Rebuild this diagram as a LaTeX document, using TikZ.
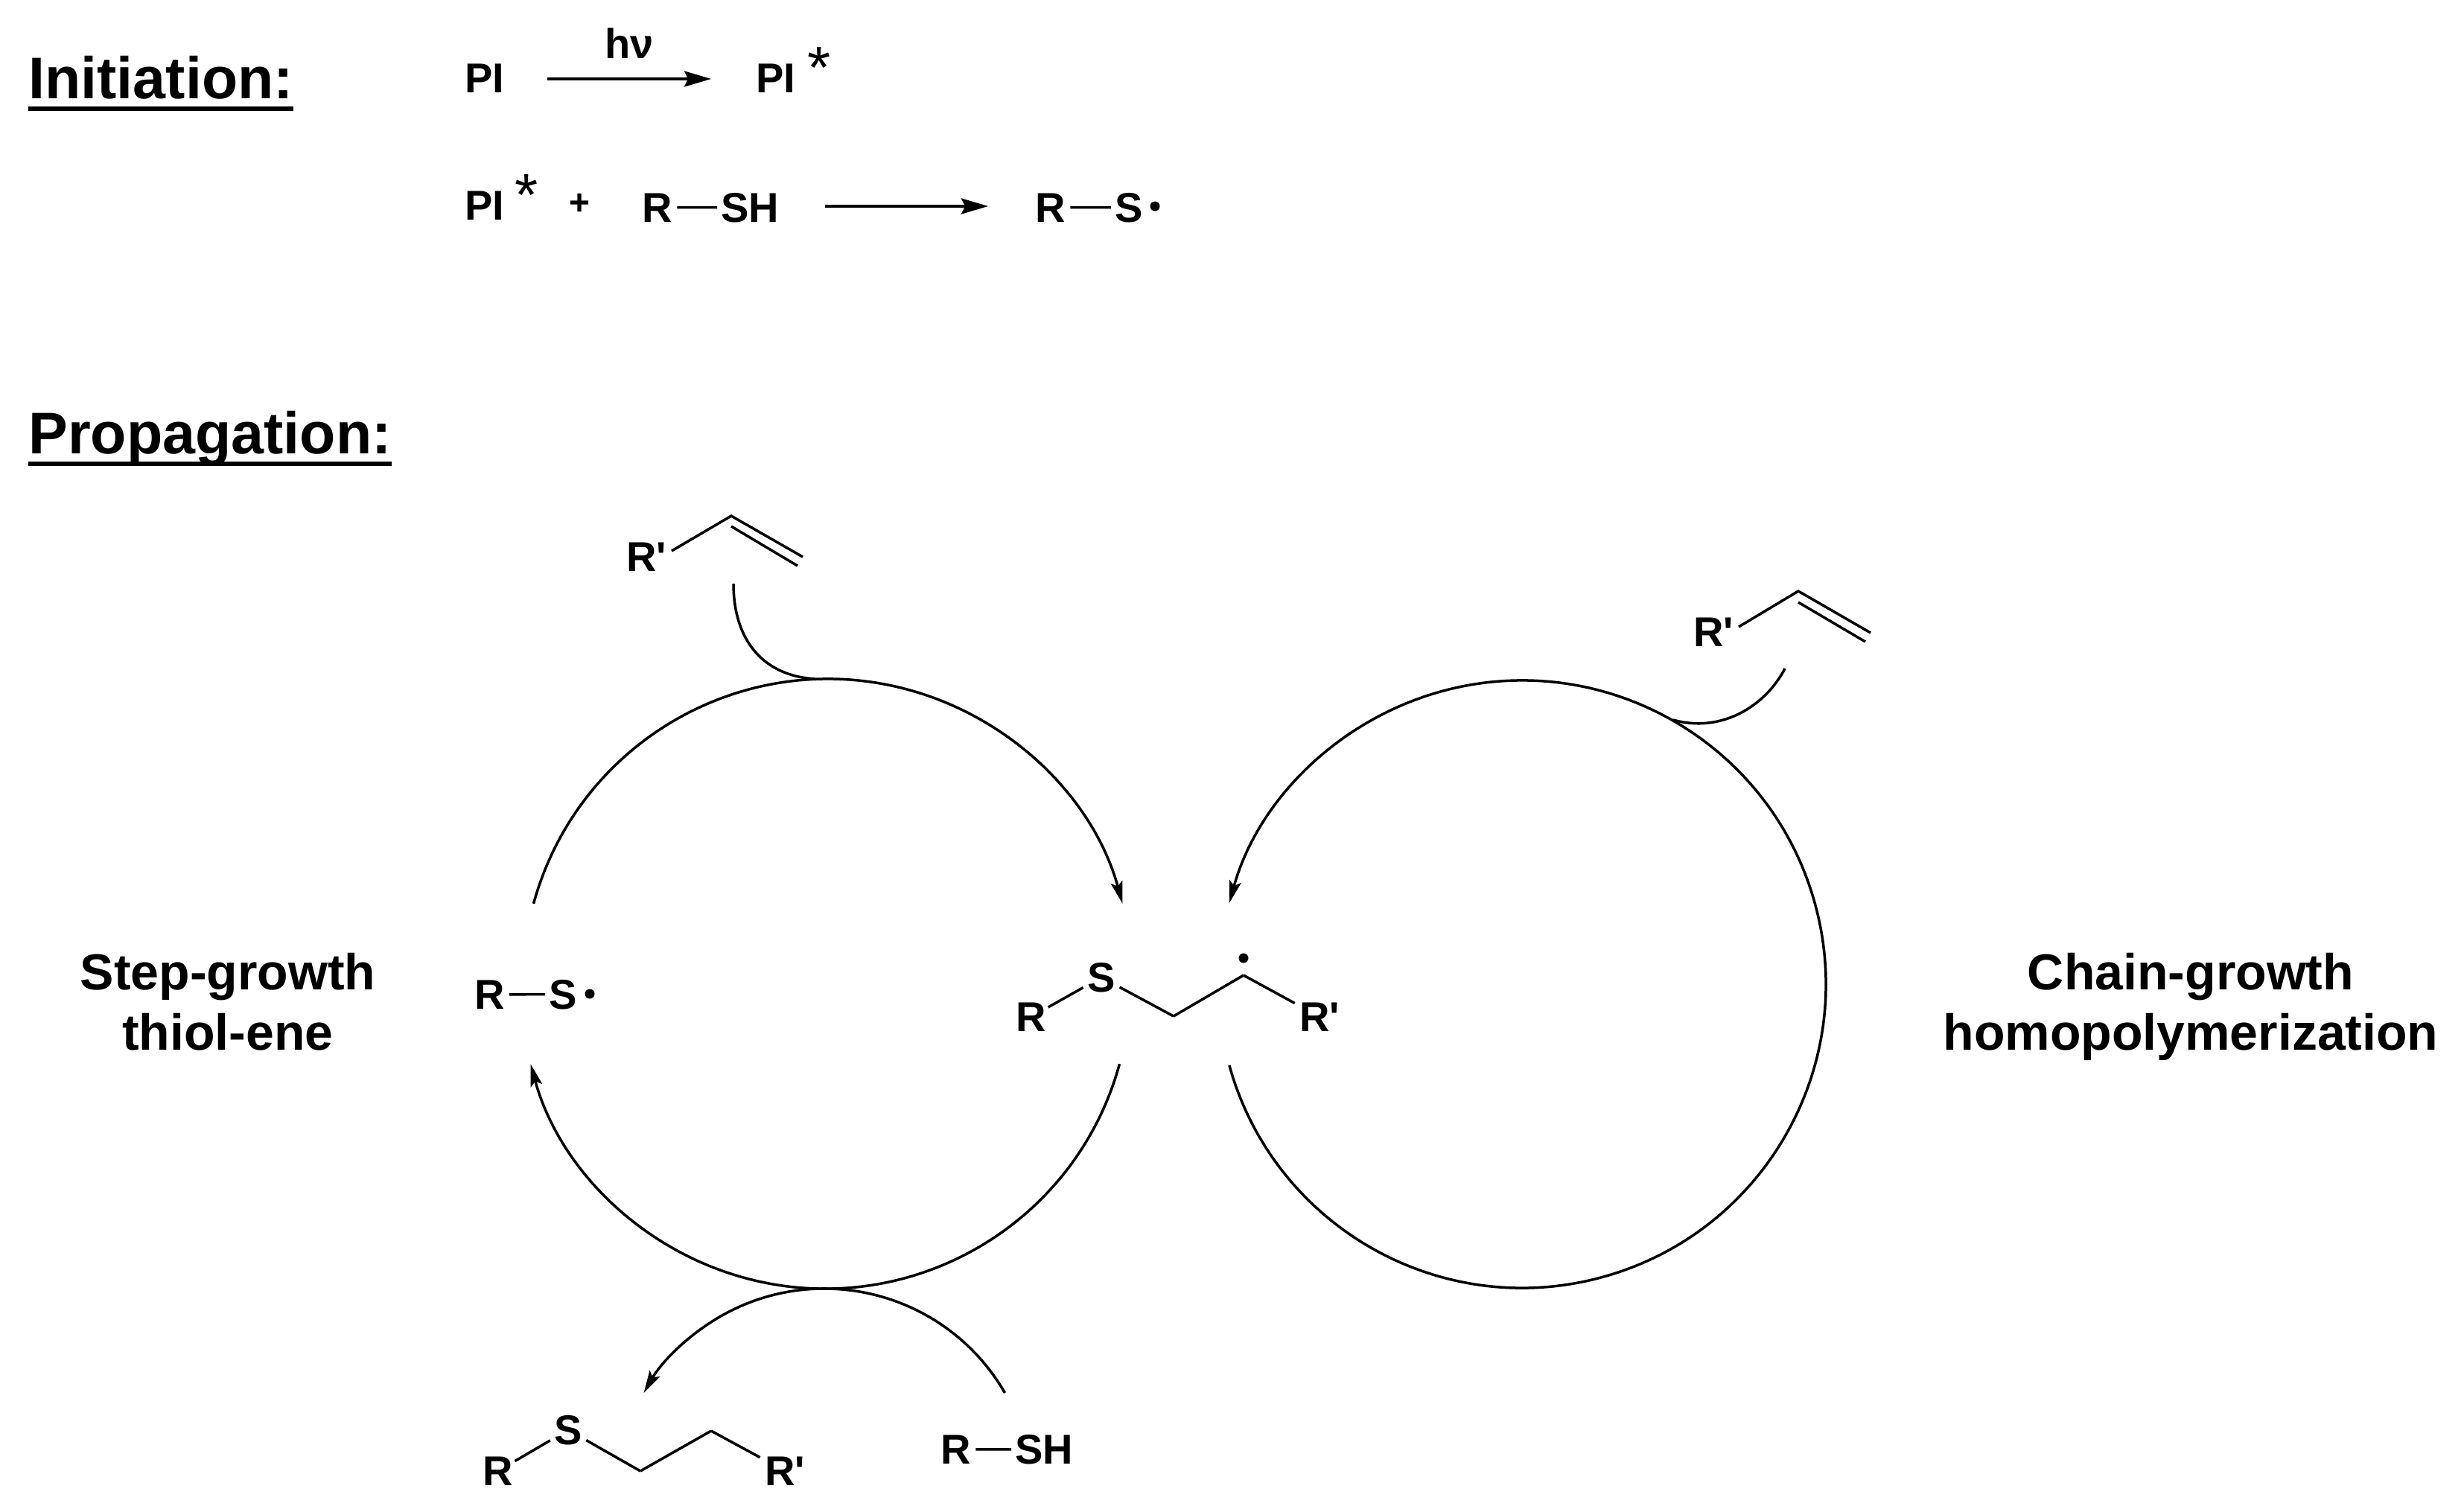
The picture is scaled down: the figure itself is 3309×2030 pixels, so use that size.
\documentclass[tikz,border=0pt]{standalone}
\usepackage{fontspec}
\setmainfont{Liberation Sans}[Ligatures=TeXOff]
\usetikzlibrary{arrows.meta}
\tikzset{
  x=0.5pt,y=0.5pt,
  head/.style={font=\bfseries\fontsize{39.5}{40}\selectfont,inner sep=0,anchor=base west},
  lab/.style={font=\bfseries\fontsize{34}{40.5}\selectfont,inner sep=0,align=center,anchor=base},
  atom/.style={font=\bfseries\fontsize{28}{30}\selectfont,inner sep=0,anchor=base west},
  atomc/.style={font=\bfseries\fontsize{28}{30}\selectfont,inner sep=0,anchor=base},
  star/.style={font=\fontsize{40}{40}\selectfont,inner sep=0},
  plus/.style={font=\bfseries\fontsize{24}{24}\selectfont,inner sep=0},
  rad/.style={circle,fill=black,inner sep=0,minimum size=6.5pt},
  ln/.style={line width=1.75pt},
  ul/.style={line width=3.4pt},
  rxn/.style={line width=1.75pt,-{Stealth[length=18pt,width=10.5pt,inset=2.5pt]}},
  cyc/.style={line width=1.75pt,-{Stealth[length=15pt,width=8pt,inset=3pt]}},
}
\begin{document}
\begin{tikzpicture}
\useasboundingbox (0,0) rectangle (3309,-2030);
% Headings
\node[head] (init) at (38,-132) {Initiation:};
\node[head] (prop) at (38,-609) {Propagation:};
\draw[ul] (init.west |- 0,-146) coordinate (u1) -- (init.east |- 0,-146);
\draw[ul] (prop.west |- 0,-623) coordinate (u2) -- (prop.east |- 0,-623);
% Initiation row 1
\node[atom] (pi1) at (624,-124) {PI};
\node[atom] (pi2) at (1015,-124) {PI};
\node[star] (st1) at (1100,-91) {*};
\node[atomc] (hv) at (845,-78) {hν};
\coordinate (a1s) at (735,-106);
\coordinate (a1e) at (955,-106);
\draw[rxn] (a1s) -- (a1e);
% Initiation row 2
\node[atom] (pi3) at (624,-295) {PI};
\node[star] (st2) at (707,-262) {*};
\node[plus] (pl) at (779,-274) {+};
\node[atom] (r1) at (862,-298) {R};
\node[atom] (sh1) at (968,-298) {SH};
\draw[ln,shorten <=3pt,shorten >=2.5pt] (r1.east) -- (sh1.west);
\coordinate (a2s) at (1108,-277);
\coordinate (a2e) at (1327,-277);
\draw[rxn] (a2s) -- (a2e);
\node[atom] (r2) at (1390,-298) {R};
\node[atom] (s2) at (1497,-298) {S};
\draw[ln,shorten <=3pt,shorten >=2.5pt] (r2.east) -- (s2.west);
\node[rad] (d2) at (1551,-277) {};
% Side labels
\node[lab] (stepl) at (306,-1410) {Step-growth\\thiol-ene};
\node[lab] (chainl) at (2942,-1410) {Chain-growth\\homopolymerization};
% Left radical
\node[atom] (r3) at (637,-1355) {R};
\node[atom] (s3) at (737,-1355) {S};
\draw[ln,shorten <=3pt,shorten >=2.5pt] (r3.east) -- (s3.west);
\node[rad] (d3) at (792,-1335) {};
% Central radical
\node[atomc] (r4) at (1385,-1385) {R};
\node[atomc] (s4) at (1479,-1332) {S};
\node[atomc] (rp4) at (1772,-1385) {R'};
\coordinate (v41) at (1576,-1365);
\coordinate (v42) at (1670,-1310);
\node[rad] (d4) at (1670,-1287) {};
\draw[ln,shorten <=13pt,shorten >=14pt] (r4.center) -- (s4.center);
\draw[ln,shorten <=14pt] (s4.center) -- (v41);
\draw[ln] (v41) -- (v42);
\draw[ln,shorten >=19pt] (v42) -- (rp4.center);
% Bottom product
\node[atomc] (r5) at (669,-1995) {R};
\node[atomc] (s5) at (763,-1940) {S};
\node[atomc] (rp5) at (1054,-1995) {R'};
\coordinate (v51) at (860,-1976);
\coordinate (v52) at (955,-1922);
\draw[ln,shorten <=13pt,shorten >=14pt] (r5.center) -- (s5.center);
\draw[ln,shorten <=14pt] (s5.center) -- (v51);
\draw[ln] (v51) -- (v52);
\draw[ln,shorten >=19pt] (v52) -- (rp5.center);
% Bottom RSH
\node[atom] (r6) at (1263,-1966) {R};
\node[atom] (sh6) at (1363,-1966) {SH};
\draw[ln,shorten <=3pt,shorten >=2.5pt] (r6.east) -- (sh6.west);
% Top-left alkene
\node[atom] (rp7) at (841,-767) {R'};
\coordinate (b7) at (902,-740);
\coordinate (v7) at (982,-693);
\coordinate (e7) at (1078,-748);
\coordinate (v7b) at (982,-707);
\coordinate (e7b) at (1071,-760);
\draw[ln] (b7) -- (v7) -- (e7);
\draw[ln] (v7b) -- (e7b);
% Right alkene
\node[atom] (rp8) at (2274,-868) {R'};
\coordinate (b8) at (2335,-842);
\coordinate (v8) at (2415,-794);
\coordinate (e8) at (2512,-850);
\coordinate (v8b) at (2415,-809);
\coordinate (e8b) at (2505,-862);
\draw[ln] (b8) -- (v8) -- (e8);
\draw[ln] (v8b) -- (e8b);
% Cycle arcs
\coordinate (ctop) at (1112,-1322);
\coordinate (cbot) at (1108,-1321);
\coordinate (crt) at (2044,-1322);
\coordinate (csm) at (1107,-2011);
\draw[cyc] ([shift={(164.7:205pt)}]ctop) arc[start angle=164.7,end angle=15.3,radius=205pt];
\draw[cyc] ([shift={(-15.3:205pt)}]cbot) arc[start angle=-15.3,end angle=-164.7,radius=205pt];
\draw[cyc] ([shift={(195.5:204pt)}]crt) arc[start angle=195.5,end angle=524.5,radius=204pt];
\draw[cyc] ([shift={(30:140pt)}]csm) arc[start angle=30,end angle=150,radius=140pt];
% Reagent curves
\coordinate (t1) at (985,-784);
\coordinate (t2) at (1095,-912);
\draw[ln] (t1) .. controls (985,-860) and (1025,-908) .. (t2);
\coordinate (t3) at (2397,-898);
\coordinate (t4) at (2247,-967);
\draw[ln] (t3) .. controls (2370,-950) and (2310,-985) .. (t4);
\end{tikzpicture}
\end{document}
